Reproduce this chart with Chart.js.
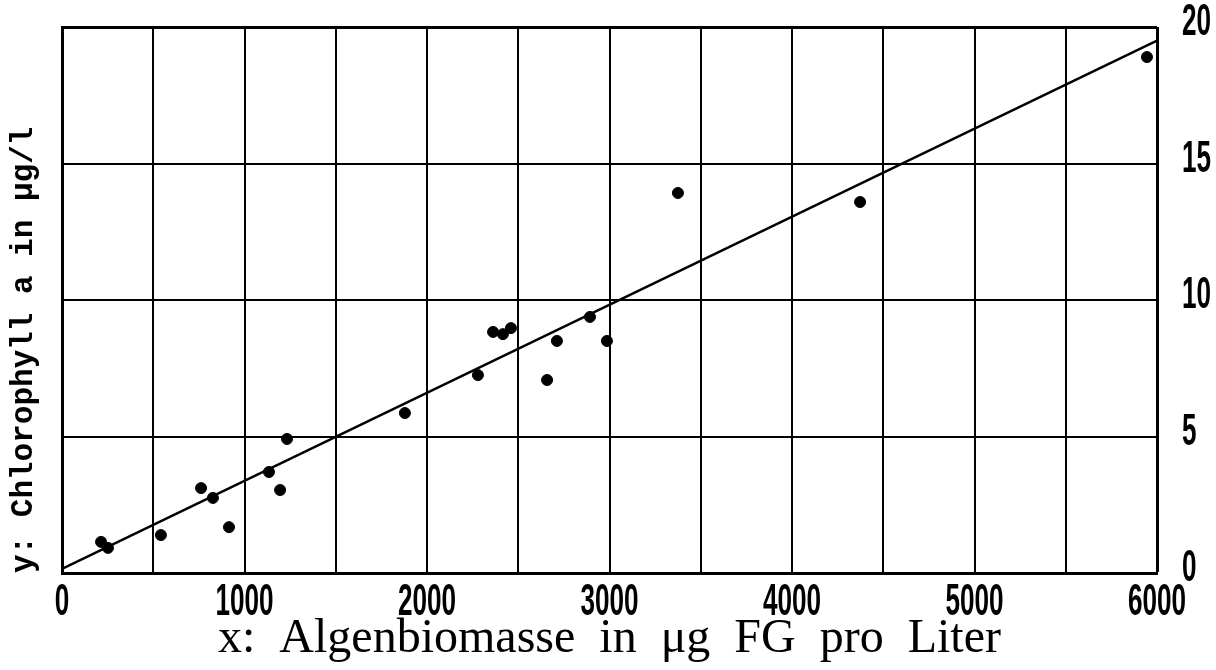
<!DOCTYPE html>
<html>
<head>
<meta charset="utf-8">
<script src="https://cdn.jsdelivr.net/npm/chart.js@4.4.0/dist/chart.umd.min.js"></script>
<style>
  html, body { margin: 0; padding: 0; background: #fff; }
  #wrap { width: 1216px; height: 670px; }
</style>
</head>
<body>
<div id="wrap"><canvas id="chart"></canvas></div>
<script>
// measured points: algae biomass (ug FG / l) vs chlorophyll a (ug/l)
const biomass = [214, 252, 542, 762, 827, 915, 1134, 1195, 1233, 1879, 2279, 2362, 2416, 2460, 2658, 2712, 2893, 2986, 3375, 4373, 5945];
const chlorophyll = [1.14, 0.92, 1.39, 3.11, 2.75, 1.68, 3.70, 3.04, 4.91, 5.86, 7.25, 8.83, 8.75, 8.97, 7.07, 8.50, 9.38, 8.50, 13.92, 13.59, 18.9];

// regression line end points
const fitX = [0, 6000];
const fitY = [0.15, 19.5];

const xMin = 0, xMax = 6000, xStep = 500, xLabelStep = 1000;
const yMin = 0, yMax = 20, yStep = 5;

const tickFont = { family: "'Liberation Sans', Arial, sans-serif", size: 45, weight: "bold", lineHeight: 1 };

const points = biomass.map((x, i) => ({ x: x, y: chlorophyll[i] }));
const fitLine = fitX.map((x, i) => ({ x: x, y: fitY[i] }));

// tick labels in the original are a narrow condensed face: squeeze them horizontally
const condensedTicks = {
  id: "condensedTicks",
  beforeDraw(chart) {
    [["x", 0], ["y2", -4]].forEach(([id, shiftY]) => {
      const scale = chart.scales[id];
      scale.drawLabels = function () {
        const ctx = this.ctx;
        this.getLabelItems(chart.chartArea).forEach((item) => {
          const o = item.options;
          ctx.save();
          ctx.translate(o.translation[0], o.translation[1] + shiftY);
          ctx.scale(0.58, 1);
          ctx.font = item.font.string;
          ctx.fillStyle = o.color;
          ctx.textAlign = o.textAlign;
          ctx.textBaseline = o.textBaseline;
          ctx.fillText(item.label, 0, item.textOffset);
          ctx.restore();
        });
      };
    });
  },
};

// the tick labels may overhang the plot frame, so keep them out of the layout
const noOverhang = (scale) => {
  scale.paddingTop = 0;
  scale.paddingBottom = 0;
  scale.paddingLeft = 0;
  scale.paddingRight = 0;
};

new Chart(document.getElementById("chart"), {
  type: "scatter",
  data: {
    datasets: [
      {
        data: points,
        backgroundColor: "#000",
        borderColor: "#000",
        pointRadius: 5.5,
        pointHoverRadius: 5.5,
      },
      {
        type: "line",
        data: fitLine,
        borderColor: "#000",
        borderWidth: 2.5,
        pointRadius: 0,
        fill: false,
      },
    ],
  },
  plugins: [condensedTicks],
  options: {
    responsive: true,
    maintainAspectRatio: false,
    animation: false,
    layout: { padding: { left: 0, right: 0, top: 27, bottom: 0 } },
    plugins: { legend: { display: false }, tooltip: { enabled: false } },
    scales: {
      x: {
        type: "linear",
        min: xMin,
        max: xMax,
        afterFit: (scale) => { noOverhang(scale); scale.height = 97; },
        border: { color: "#000", width: 3 },
        grid: {
          color: "#000",
          lineWidth: (ctx) => (ctx.tick && ctx.tick.value === xMax ? 3 : 2),
          drawTicks: false,
        },
        ticks: {
          stepSize: xStep,
          color: "#000",
          font: tickFont,
          padding: 7,
          maxRotation: 0,
          autoSkip: false,
          callback: (v) => (v % xLabelStep === 0 ? String(v) : ""),
        },
        title: {
          display: true,
          text: "x:  Algenbiomasse  in  μg  FG  pro  Liter",
          color: "#000",
          font: { family: "'Liberation Serif', 'DejaVu Serif', serif", size: 48, lineHeight: 1 },
          padding: { top: 0, bottom: 7 },
        },
      },
      y: {
        type: "linear",
        position: "left",
        min: yMin,
        max: yMax,
        afterFit: (scale) => { noOverhang(scale); scale.width = 62; },
        border: { color: "#000", width: 3 },
        grid: {
          color: "#000",
          lineWidth: (ctx) => (ctx.tick && ctx.tick.value === yMax ? 3 : 2),
          drawTicks: false,
        },
        ticks: { display: false, stepSize: yStep },
        title: {
          display: true,
          text: "y: Chlorophyll a in μg/l",
          align: "start",
          color: "#000",
          font: { family: "'Liberation Mono', 'DejaVu Sans Mono', monospace", size: 31, weight: "bold" },
          padding: { top: 6, bottom: 0 },
        },
      },
      y2: {
        type: "linear",
        position: "right",
        min: yMin,
        max: yMax,
        afterFit: (scale) => { noOverhang(scale); scale.width = 59; },
        border: { display: false },
        grid: { display: false, drawTicks: false },
        ticks: {
          stepSize: yStep,
          color: "#000",
          font: tickFont,
          padding: 25,
        },
      },
    },
  },
});
</script>
</body>
</html>
